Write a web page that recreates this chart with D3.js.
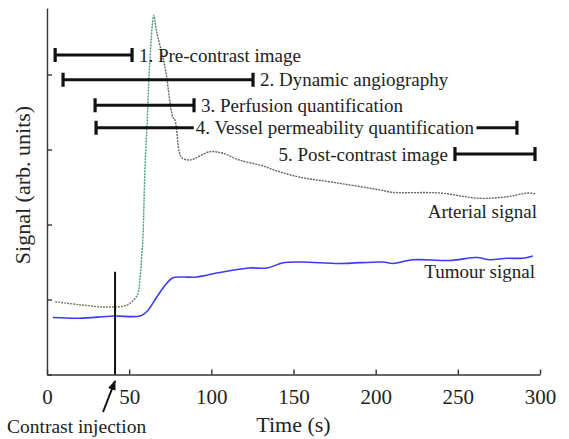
<!DOCTYPE html>
<html>
<head>
<meta charset="utf-8">
<script src="https://cdn.jsdelivr.net/npm/d3@7"></script>
<style>
  body { margin: 0; background: #fff; }
  svg { display: block; font-family: "Liberation Serif", "DejaVu Serif", serif; }
  .axis path, .axis line { stroke: #333; stroke-width: 1.4; }
  .axis text { font-family: "Liberation Serif", serif; font-size: 21px; fill: #222; }
</style>
</head>
<body>
<div id="chart"></div>
<script>
// arterial signal (dotted grey line), time in s / signal in arbitrary units
var arterial_t = [5, 20, 36, 49, 55, 56.5, 57.8, 58.4, 59.6, 61, 62.4, 65, 66.5, 71.8, 76.6, 77.9, 80.3, 82, 87, 99, 107, 117, 130, 142, 154, 172, 203, 210, 239, 263, 280, 292.5, 297];
var arterial_v = [0.97, 0.93, 0.90, 0.93, 1.06, 1.26, 1.62, 1.83, 2.73, 3.39, 4.10, 4.79, 4.59, 4.10, 3.43, 3.39, 2.99, 2.89, 2.86, 2.97, 2.95, 2.86, 2.79, 2.70, 2.63, 2.57, 2.46, 2.43, 2.42, 2.35, 2.37, 2.42, 2.41];
// tumour signal (blue line)
var tumour_t = [3.6, 20, 40, 56.6, 60.8, 67, 73, 76.6, 82.7, 91, 105, 123, 134, 143.6, 155.7, 178, 204.4, 210.5, 222.6, 245, 261.6, 269.5, 279.8, 289.5, 295.6];
var tumour_v = [0.76, 0.75, 0.78, 0.78, 0.84, 1.04, 1.22, 1.29, 1.30, 1.30, 1.36, 1.42, 1.42, 1.49, 1.50, 1.48, 1.50, 1.48, 1.53, 1.52, 1.56, 1.53, 1.55, 1.55, 1.58];
// acquisition windows
var phase_names = ['1. Pre-contrast image', '2. Dynamic angiography', '3. Perfusion quantification', '4. Vessel permeability quantification', '5. Post-contrast image'];
var phase_start = [4.9, 9.7, 29.2, 29.8, 248.2];
var phase_end = [51.7, 125.3, 89.4, 285.9, 296.9];
var phase_level = [4.26, 3.93, 3.59, 3.29, 2.94];
var vessel_label_time = 90.5;
var injection_time = 41.4;
var injection_top = 1.37;
var x_ticks = [0, 50, 100, 150, 200, 250, 300];
var y_ticks = [0, 1, 2, 3, 4];

var width = 569, height = 439;
var svg = d3.select('#chart').append('svg').attr('width', width).attr('height', height);

var x = d3.scaleLinear().domain([0, 300]).range([47, 540]);
var y = d3.scaleLinear().domain([0, 4.887]).range([374.5, 8]);

// axes (inward ticks, no labels on y)
svg.append('g').attr('class', 'axis').attr('transform', 'translate(0,' + y(0) + ')')
    .call(d3.axisBottom(x).tickValues(x_ticks).tickSizeInner(-5).tickSizeOuter(0).tickPadding(15));
svg.append('g').attr('class', 'axis').attr('transform', 'translate(' + x(0) + ',0)')
    .call(d3.axisLeft(y).tickValues(y_ticks).tickFormat('').tickSizeInner(-5).tickSizeOuter(0));

svg.append('text').text('Time (s)').attr('x', x(150)).attr('y', 432)
    .attr('text-anchor', 'middle').attr('font-size', 22).attr('fill', '#222');
svg.append('text').text('Signal (arb. units)')
    .attr('transform', 'translate(30,185) rotate(-90)')
    .attr('text-anchor', 'middle').attr('font-size', 22).attr('fill', '#222');

// arterial line colour shifts along x like the original print
var defs = svg.append('defs');
var grad = defs.append('linearGradient').attr('id', 'art_grad')
    .attr('gradientUnits', 'userSpaceOnUse')
    .attr('x1', x(0)).attr('x2', x(300)).attr('y1', 0).attr('y2', 0);
[[0, '#7c7c5c'], [52, '#7c7c5c'], [56, '#3f9a86'], [64, '#3f9a86'], [68, '#666'], [300, '#666']].forEach(function (s) {
    grad.append('stop').attr('offset', (s[0] / 300 * 100) + '%').attr('stop-color', s[1]);
});

var line = d3.line().x(d => x(d[0])).y(d => y(d[1])).curve(d3.curveCatmullRom.alpha(0.5));
svg.append('path').datum(arterial_t.map((t, i) => [t, arterial_v[i]]))
    .attr('d', line).attr('fill', 'none').attr('stroke', 'url(#art_grad)')
    .attr('stroke-width', 1.4).attr('stroke-dasharray', '2,1');
svg.append('path').datum(tumour_t.map((t, i) => [t, tumour_v[i]]))
    .attr('d', line).attr('fill', 'none').attr('stroke', '#3b3bf5').attr('stroke-width', 1.6);

svg.append('text').text('Arterial signal').attr('x', x(300) - 3).attr('y', y(arterial_v[arterial_v.length - 1]) + 24)
    .attr('text-anchor', 'end').attr('font-size', 19).attr('fill', '#222');
svg.append('text').text('Tumour signal').attr('x', x(300) - 5).attr('y', y(tumour_v[tumour_v.length - 1]) + 22)
    .attr('text-anchor', 'end').attr('font-size', 19).attr('fill', '#222');

// injection marker
svg.append('line').attr('x1', x(injection_time)).attr('x2', x(injection_time))
    .attr('y1', y(injection_top)).attr('y2', y(0)).attr('stroke', '#111').attr('stroke-width', 2);
defs.append('marker').attr('id', 'arrow').attr('viewBox', '0 0 10 10').attr('refX', 9).attr('refY', 5)
    .attr('markerWidth', 5).attr('markerHeight', 5).attr('orient', 'auto')
    .append('path').attr('d', 'M0,1L10,5L0,9Z').attr('fill', '#111');
svg.append('line').attr('x1', x(injection_time) - 12).attr('y1', 412)
    .attr('x2', x(injection_time)).attr('y2', 381)
    .attr('stroke', '#111').attr('stroke-width', 2).attr('marker-end', 'url(#arrow)');
svg.append('text').text('Contrast injection').attr('x', 7).attr('y', 433)
    .attr('font-size', 19.5).attr('fill', '#222');

// phase bars
var bars = svg.append('g');
phase_names.forEach(function (name, i) {
    var x0 = x(phase_start[i]), x1 = x(phase_end[i]), yy = y(phase_level[i]);
    var g = bars.append('g');
    g.append('line').attr('x1', x0).attr('x2', x1).attr('y1', yy).attr('y2', yy)
        .attr('stroke', '#111').attr('stroke-width', 3);
    [x0, x1].forEach(function (cx) {
        g.append('rect').attr('x', cx - 1.5).attr('y', yy - 7).attr('width', 3.2).attr('height', 14).attr('fill', '#111');
    });
    var t = g.append('text').text(name).attr('y', yy).attr('dy', '0.35em')
        .attr('font-size', 19).attr('fill', '#222');
    if (i == 3) {
        t.attr('x', x(vessel_label_time));
        var bb = t.node().getBBox();
        g.insert('rect', 'text').attr('x', bb.x - 2).attr('y', yy - 4).attr('width', bb.width + 4)
            .attr('height', 8).attr('fill', '#fff');
    } else if (i == 4) {
        t.attr('x', x0 - 7).attr('text-anchor', 'end');
    } else {
        t.attr('x', x1 + 7);
    }
});
</script>
</body>
</html>
